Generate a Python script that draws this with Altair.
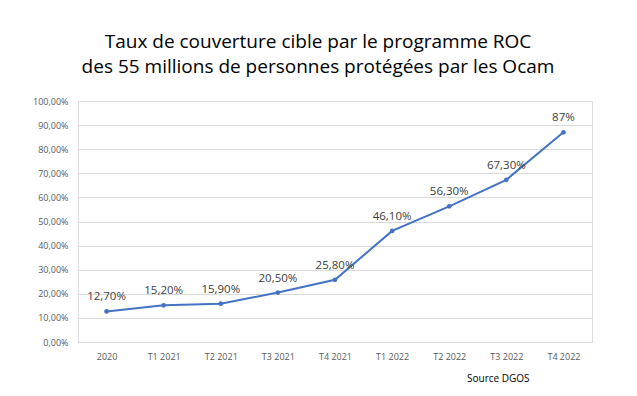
import altair as alt
import pandas as pd

categories = ["2020", "T1 2021", "T2 2021", "T3 2021", "T4 2021",
              "T1 2022", "T2 2022", "T3 2022", "T4 2022"]
values = [0.127, 0.152, 0.159, 0.205, 0.258, 0.461, 0.563, 0.673, 0.87]
labels = ["12,70%", "15,20%", "15,90%", "20,50%", "25,80%",
          "46,10%", "56,30%", "67,30%", "87%"]

df = pd.DataFrame({"cat": categories, "val": values, "lab": labels})

FONT = "Open Sans"

x = alt.X("cat:N", sort=categories, title=None,
          scale=alt.Scale(paddingInner=0, paddingOuter=0.5),
          axis=alt.Axis(labelAngle=0, labelFontSize=9, labelColor="#595959",
                        labelFont=FONT, ticks=False, domain=True,
                        domainColor="#d9d9d9", labelPadding=10))
y = alt.Y("val:Q", title=None,
          scale=alt.Scale(domain=[0, 1]),
          axis=alt.Axis(values=[i / 10 for i in range(11)],
                        labelExpr="replace(format(datum.value*100,'.2f'),'.',',')+'%'",
                        labelFontSize=9, labelColor="#595959", labelFont=FONT,
                        ticks=False, domain=False, gridColor="#d9d9d9",
                        labelPadding=10))

base = alt.Chart(df).encode(x=x, y=y)

line = base.mark_line(color="#4472C4", strokeWidth=2)
pts = base.mark_point(color="#4472C4", filled=True, size=22, opacity=1)
txt = base.mark_text(dy=-14, fontSize=11.5, color="#404040", font=FONT).encode(text="lab:N")

src = alt.Chart(pd.DataFrame({"t": ["Source DGOS"]})).mark_text(
    align="left", baseline="middle", fontSize=10, color="#000000", font=FONT
).encode(x=alt.value(389), y=alt.value(278), text="t:N")

chart = alt.layer(line, pts, txt, src).properties(
    width=514, height=241,
    padding={"left": 70, "top": 93, "right": 37, "bottom": 50},
    autosize=alt.AutoSizeParams(type="none"),
    title=alt.TitleParams(
        text=["Taux de couverture cible par le programme ROC",
              "des 55 millions de personnes protégées par les Ocam"],
        anchor="middle", fontSize=19, font=FONT, fontWeight="normal",
        color="#000000", dx=-17, offset=20, lineHeight=25),
).configure_view(stroke=None).configure(background="white")

chart.save("out.html", embed_options={"renderer": "svg", "actions": False})
